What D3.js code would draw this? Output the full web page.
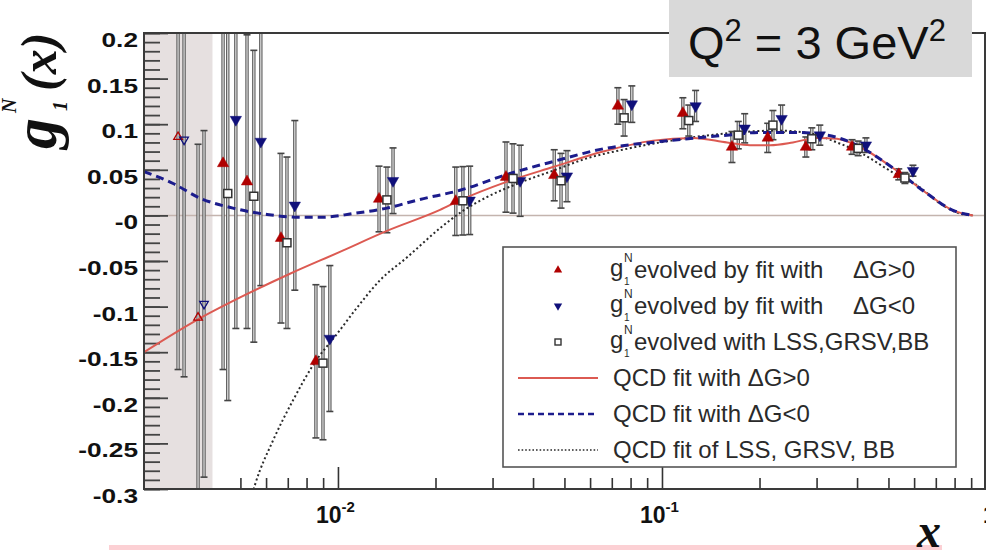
<!DOCTYPE html>
<meta charset="utf-8">
<style>
  body { margin: 0; background: #fff; }
  svg { display: block; }
  .tick-label { font-family: "Liberation Sans", Arial, Helvetica, sans-serif; font-weight: bold; fill: #111; }
  .legend text { font-family: "Liberation Sans", Arial, Helvetica, sans-serif; font-size: 24px; fill: #2a2a2a; }
</style>
<body>
<svg id="chart" width="986" height="550"></svg>
<script src="https://cdn.jsdelivr.net/npm/d3@7"></script>
<script>
// ---- data ----
// g1N points evolved by fit with dG>0 (red triangles)
var redX   = [0.00321, 0.00370, 0.00442, 0.00524, 0.00667, 0.00855, 0.01339, 0.0231, 0.0330, 0.0465, 0.0731, 0.116, 0.1644, 0.212, 0.278, 0.386, 0.538];
var redY   = [0.086, -0.112, 0.057, 0.037, -0.025, -0.160, 0.018, 0.0155, 0.042, 0.044, 0.120, 0.112, 0.075, 0.085, 0.075, 0.075, 0.045];
var redErr = [0.255, 0.190, 0.226, 0.161, 0.093, 0.084, 0.036, 0.0375, 0.0385, 0.028, 0.020, 0.017, 0.017, 0.016, 0.011, 0.008, 0.006];

// dG<0 (blue inverted triangles)
var blueX   = [0.00335, 0.00386, 0.00484, 0.00578, 0.00736, 0.00944, 0.01479, 0.0255, 0.0365, 0.0509, 0.0807, 0.127, 0.180, 0.234, 0.307, 0.426, 0.595];
var blueY   = [0.083, -0.097, 0.105, 0.081, 0.011, -0.135, 0.038, 0.0165, 0.038, 0.043, 0.122, 0.120, 0.0955, 0.106, 0.088, 0.077, 0.049];
var blueErr = [0.260, 0.190, 0.229, 0.158, 0.093, 0.080, 0.036, 0.0375, 0.039, 0.028, 0.020, 0.017, 0.016, 0.015, 0.011, 0.008, 0.006];

// LSS, GRSV, BB (open squares)
var sqX   = [0.00457, 0.00550, 0.00696, 0.00899, 0.01416, 0.0243, 0.0347, 0.0488, 0.0764, 0.121, 0.172, 0.220, 0.290, 0.403, 0.562];
var sqY   = [0.024, 0.021, -0.030, -0.162, 0.017, 0.016, 0.0405, 0.038, 0.107, 0.104, 0.088, 0.099, 0.084, 0.0735, 0.041];
var sqErr = [0.227, 0.160, 0.094, 0.084, 0.036, 0.0375, 0.038, 0.030, 0.020, 0.017, 0.015, 0.016, 0.012, 0.008, 0.006];

// QCD fit curves [x, g1]
var fitPos = [[0.00252,-0.150],[0.00370,-0.114],[0.00499,-0.090],[0.00711,-0.064],[0.01014,-0.040],
  [0.01416,-0.017],[0.02065,0.006],[0.0238,0.0165],[0.0333,0.037],[0.0461,0.053],[0.0658,0.070],
  [0.0938,0.082],[0.1247,0.085],[0.1588,0.080],[0.187,0.077],[0.2156,0.077],[0.2535,0.080],[0.3006,0.085],
  [0.3467,0.084],[0.4083,0.075],[0.5164,0.052],[0.6577,0.024],[0.791,0.0055],[0.912,0.0]];
var fitNeg = [[0.00252,0.048],[0.00310,0.035],[0.00375,0.019],[0.00474,0.008],[0.00604,0.001],[0.00764,-0.002],
  [0.00899,-0.002],[0.01112,0.002],[0.01416,0.008],[0.01791,0.0175],[0.0238,0.0275],[0.0333,0.045],[0.0461,0.059],
  [0.0658,0.073],[0.0986,0.081],[0.1588,0.088],[0.2006,0.091],[0.2535,0.091],[0.3230,0.088],[0.3888,0.079],
  [0.5164,0.052],[0.6577,0.024],[0.791,0.0055],[0.912,0.0]];
var fitLSS = [[0.00530,-0.320],[0.00555,-0.295],[0.00630,-0.247],[0.00726,-0.203],[0.00849,-0.161],[0.00993,-0.130],
  [0.01146,-0.101],[0.01349,-0.071],[0.01634,-0.046],[0.02065,-0.014],[0.0243,0.005],[0.0288,0.020],[0.0365,0.036],
  [0.0461,0.049],[0.0587,0.0626],[0.0742,0.0714],[0.0986,0.080],[0.1588,0.090],[0.2265,0.093],[0.2863,0.090],
  [0.3467,0.080],[0.4083,0.069],[0.5164,0.047],[0.6122,0.033],[0.7365,0.011],[0.8313,0.002],[0.912,0.0]];

var xDomain = [0.00252, 1];
var yDomain = [-0.3, 0.2];
var shadeEnd = 0.0041;           // region x < 0.0041 is shaded
var yMajor = [-0.3, -0.25, -0.2, -0.15, -0.1, -0.05, 0, 0.05, 0.1, 0.15, 0.2];
var yLabels = ["-0.3", "-0.25", "-0.2", "-0.15", "-0.1", "-0.05", "-0", "0.05", "0.1", "0.15", "0.2"];
var xMajor = [0.01, 0.1, 1];
var xBase = ["10", "10", "1"];
var xExp = ["-2", "-1", ""];

var legendRows = [
  { kind: "tri", color: "#b00000", text: "evolved by fit with", tail: "\u0394G>0" },
  { kind: "inv", color: "#10107a", text: "evolved by fit with", tail: "\u0394G<0" },
  { kind: "sq", text: "evolved with LSS,GRSV,BB" },
  { kind: "solid", text: "QCD fit with \u0394G>0" },
  { kind: "dash", text: "QCD fit with \u0394G<0" },
  { kind: "dot", text: "QCD fit of LSS, GRSV, BB" }
];

// ---- layout ----
var L = 144, R = 986, T = 33, B = 489;
var svg = d3.select("#chart");

var x = d3.scaleLog().domain(xDomain).range([L, R]);
var y = d3.scaleLinear().domain(yDomain).range([B, T]);

svg.append("defs").append("clipPath").attr("id", "plotclip")
  .append("rect").attr("x", L).attr("y", T).attr("width", R - L).attr("height", B - T);

// x ticks (the shading hides the ones below 0.0041)
var xMinor = [];
[0.001, 0.01, 0.1].forEach(function (p) {
  for (var k = 2; k <= 9; k++) { var v = k * p; if (v > xDomain[0] && v < 1) xMinor.push(v); }
});
var xAx = svg.append("g").attr("transform", "translate(0," + B + ")");
xAx.call(d3.axisBottom(x).tickValues(xMinor).tickSize(-11).tickSizeOuter(0).tickFormat(""));
xAx.append("g").call(d3.axisBottom(x).tickValues(xMajor).tickSize(-22).tickSizeOuter(0).tickFormat(""));
xAx.selectAll(".domain").remove();
xAx.selectAll("line").attr("stroke", "#333").attr("stroke-width", 1.6);

// shaded low-x band
svg.append("rect").attr("x", x(xDomain[0])).attr("y", T)
  .attr("width", x(shadeEnd) - x(xDomain[0])).attr("height", B - T)
  .attr("fill", "#e6e0e0");

// zero line
svg.append("line").attr("x1", L).attr("x2", R).attr("y1", y(0)).attr("y2", y(0))
  .attr("stroke", "#c4b4ae").attr("stroke-width", 1.5);

// y ticks
var yMinor = d3.range(-30, 21).map(function (d) { return d / 100; });
var yAx = svg.append("g").attr("transform", "translate(" + L + ",0)");
yAx.call(d3.axisLeft(y).tickValues(yMinor).tickSize(-16).tickSizeOuter(0).tickFormat(""));
yAx.append("g").call(d3.axisLeft(y).tickValues(yMajor).tickSize(-24).tickSizeOuter(0).tickFormat(""));
yAx.selectAll(".domain").remove();
yAx.selectAll("line").attr("stroke", "#444").attr("stroke-width", 1.8);

svg.selectAll(".ylab").data(yMajor).enter().append("text")
  .attr("class", "tick-label")
  .attr("transform", function (d) { return "translate(138," + (y(d) + 14) + ") scale(1.25,1)"; })
  .attr("text-anchor", "end").attr("font-size", 21)
  .text(function (d, i) { return yLabels[i]; });

// x labels
xMajor.forEach(function (v, i) {
  var t = svg.append("text").attr("class", "tick-label").attr("font-size", 23)
    .attr("x", x(v) - (xExp[i] ? 22 : 3)).attr("y", 523);
  t.append("tspan").text(xBase[i]);
  if (xExp[i]) t.append("tspan").attr("font-size", 15).attr("dy", -11).text(xExp[i]);
});

// ---- data ----
var plot = svg.append("g").attr("clip-path", "url(#plotclip)");

function bars(xs, ys, es) {
  var g = plot.append("g");
  xs.forEach(function (xv, i) {
    var px = x(xv), y1 = y(ys[i] + es[i]), y2 = y(ys[i] - es[i]);
    g.append("line").attr("x1", px).attr("x2", px).attr("y1", y1).attr("y2", y2)
      .attr("stroke", "#5a5a5a").attr("stroke-width", 3.4);
    g.append("line").attr("x1", px).attr("x2", px).attr("y1", y1).attr("y2", y2)
      .attr("stroke", "#e4e4e4").attr("stroke-width", 1.2);
    [y1, y2].forEach(function (yy) {
      g.append("line").attr("x1", px - 3.5).attr("x2", px + 3.5).attr("y1", yy).attr("y2", yy)
        .attr("stroke", "#444").attr("stroke-width", 1.6);
    });
  });
}
bars(redX, redY, redErr);
bars(sqX, sqY, sqErr);
bars(blueX, blueY, blueErr);

var line = d3.line().x(function (d) { return x(d[0]); }).y(function (d) { return y(d[1]); })
  .curve(d3.curveMonotoneX);
plot.append("path").attr("d", line(fitLSS)).attr("fill", "none")
  .attr("stroke", "#2a2a2a").attr("stroke-width", 2).attr("stroke-dasharray", "2,2.6");
plot.append("path").attr("d", line(fitPos)).attr("fill", "none")
  .attr("stroke", "#dc5a52").attr("stroke-width", 2);
plot.append("path").attr("d", line(fitNeg)).attr("fill", "none")
  .attr("stroke", "#1c1c8c").attr("stroke-width", 3).attr("stroke-dasharray", "8,5");

var tri = d3.symbol().type(d3.symbolTriangle).size(56);
var triSmall = d3.symbol().type(d3.symbolTriangle).size(32);
function markers(xs, ys, color, flip) {
  xs.forEach(function (xv, i) {
    var open = xv < shadeEnd;
    plot.append("path").attr("d", open ? triSmall() : tri())
      .attr("transform", "translate(" + x(xv) + "," + y(ys[i]) + ")" + (flip ? " rotate(180)" : ""))
      .attr("fill", open ? "none" : color)
      .attr("stroke", color).attr("stroke-width", open ? 1.3 : 0.5);
  });
}
markers(redX, redY, "#b00000", false);
markers(blueX, blueY, "#10107a", true);
plot.selectAll(".sq").data(sqX).enter().append("rect")
  .attr("x", function (d) { return x(d) - 4; })
  .attr("y", function (d, i) { return y(sqY[i]) - 4; })
  .attr("width", 8).attr("height", 8)
  .attr("fill", "#fff").attr("stroke", "#333").attr("stroke-width", 1.5);

// ---- frame ----
svg.append("rect").attr("x", L).attr("y", T).attr("width", R - 1 - L).attr("height", B - T)
  .attr("fill", "none").attr("stroke", "#3a3a3a").attr("stroke-width", 2);

// ---- legend ----
var lg = svg.append("g").attr("class", "legend");
lg.append("rect").attr("x", 503).attr("y", 247).attr("width", 453).attr("height", 220)
  .attr("fill", "#fff").attr("stroke", "#555").attr("stroke-width", 1.6);
legendRows.forEach(function (r, i) {
  var cy = 270 + i * 36;
  if (r.kind === "tri" || r.kind === "inv") {
    lg.append("path").attr("d", d3.symbol().type(d3.symbolTriangle).size(30)())
      .attr("transform", "translate(558," + cy + ")" + (r.kind === "inv" ? " rotate(180)" : ""))
      .attr("fill", r.color);
  } else if (r.kind === "sq") {
    lg.append("rect").attr("x", 555).attr("y", cy - 3).attr("width", 6).attr("height", 6)
      .attr("fill", "#fff").attr("stroke", "#333").attr("stroke-width", 1.4);
  } else {
    var ln = lg.append("line").attr("x1", 518).attr("x2", 598).attr("y1", cy).attr("y2", cy);
    if (r.kind === "solid") ln.attr("stroke", "#dc5a52").attr("stroke-width", 2);
    if (r.kind === "dash") ln.attr("stroke", "#1c1c8c").attr("stroke-width", 2.4).attr("stroke-dasharray", "6,4");
    if (r.kind === "dot") ln.attr("stroke", "#2a2a2a").attr("stroke-width", 1.6).attr("stroke-dasharray", "1.6,2");
  }
  if (i < 3) {
    lg.append("text").attr("x", 610).attr("y", cy + 6).text("g");
    lg.append("text").attr("x", 624).attr("y", cy + 15).style("font-size", "10px").text("1");
    lg.append("text").attr("x", 624).attr("y", cy - 8).style("font-size", "12px").text("N");
    lg.append("text").attr("x", 634).attr("y", cy + 8).text(r.text);
    if (r.tail) lg.append("text").attr("x", 853).attr("y", cy + 8).text(r.tail);
  } else {
    lg.append("text").attr("x", 613).attr("y", cy + 8).text(r.text);
  }
});

// ---- Q^2 label box ----
svg.append("rect").attr("x", 669).attr("y", 0).attr("width", 303).attr("height", 77).attr("fill", "#d9d9d9");
var q = svg.append("text").attr("x", 688).attr("y", 59)
  .style("font-family", "'Liberation Sans', Arial, sans-serif").style("font-size", "47px").attr("fill", "#111");
q.append("tspan").text("Q");
q.append("tspan").attr("dy", -18).style("font-size", "31px").text("2");
q.append("tspan").attr("dy", 18).text(" = 3 GeV");
q.append("tspan").attr("dy", -18).style("font-size", "31px").text("2");

// ---- axis titles ----
var yt = svg.append("g").attr("transform", "translate(56,147) rotate(-90)")
  .style("font-family", "'Liberation Serif', 'Times New Roman', serif").style("font-style", "italic")
  .style("font-weight", "bold").attr("fill", "#111");
yt.append("text").attr("x", -2).attr("y", 0).style("font-size", "62px").text("g");
yt.append("text").attr("x", 36).attr("y", 11).style("font-size", "20px").text("1");
yt.append("text").attr("x", 34).attr("y", -40).style("font-size", "20px").text("N");
yt.append("text").attr("x", 56).attr("y", 0).style("font-size", "50px").text("(x)");

svg.append("rect").attr("x", 109).attr("y", 545).attr("width", 833).attr("height", 5).attr("fill", "#fcd0d4");
svg.append("text").attr("x", 917).attr("y", 547)
  .style("font-family", "'Liberation Serif', 'Times New Roman', serif").style("font-style", "italic")
  .style("font-weight", "bold").style("font-size", "48px").attr("fill", "#111").text("x");
</script>
</body>
